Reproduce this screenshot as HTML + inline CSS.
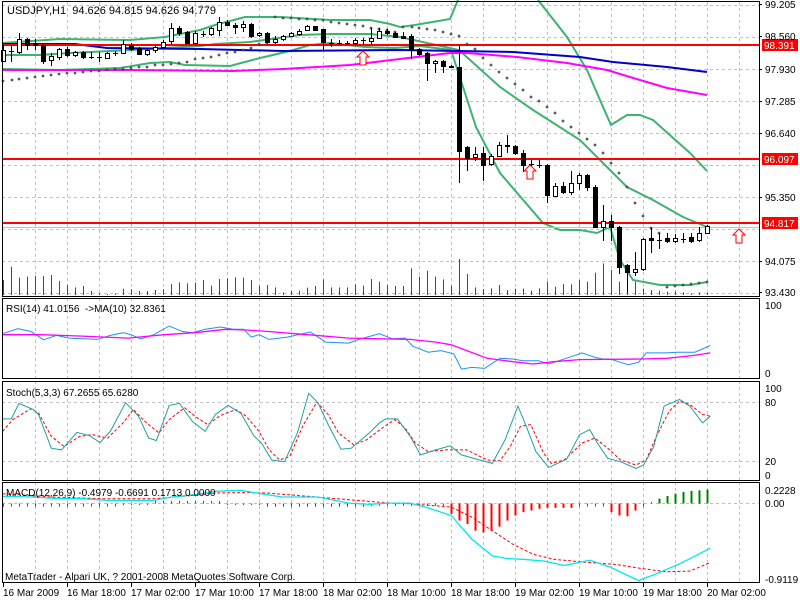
<!DOCTYPE html>
<html><head><meta charset="utf-8"><style>
html,body{margin:0;padding:0;background:#fff;width:800px;height:600px;overflow:hidden}
svg{display:block}
text{font-family:"Liberation Sans",sans-serif;font-size:10px;fill:#000}
</style></head><body>
<svg id="s" width="800" height="600" xmlns="http://www.w3.org/2000/svg"></svg>
<script>
var o='';
function P(pts,attr){o+='<polyline fill="none" points="'+pts.map(function(p){return p[0].toFixed(1)+','+p[1].toFixed(1)}).join(' ')+'" '+attr+'/>';}
function L(x1,y1,x2,y2,a){o+='<line x1="'+x1+'" y1="'+y1+'" x2="'+x2+'" y2="'+y2+'" '+a+'/>';}
function R(x,y,w,h,a){o+='<rect x="'+x+'" y="'+y+'" width="'+w+'" height="'+h+'" '+a+'/>';}
function T(x,y,t,a){o+='<text x="'+x+'" y="'+y+'" '+(a||'')+'>'+t+'</text>';}
var RX=759;
var grid='stroke="#c0c0c0" stroke-width="1" stroke-dasharray="3,3"';
var panels=[[2,296],[298,378],[381,480],[482,582]];
for(var x=35;x<RX;x+=32){panels.forEach(function(p){L(x+.5,p[0],x+.5,p[1],grid)});}
[5,37,69,101,133,165,197,229,261,293].forEach(function(y){L(2,y+.5,RX,y+.5,grid)});
var vz=[840,800,833,830,828,828,825,843,855,862,858,873,880,882,880,866,868,873,873,870,868,852,847,850,848,840,857,837,835,832,833,840,857,855,862,877,873,872,863,858,838,862,862,862,853,857,837,845,855,858,858,805,830,812,830,838,857,777,822,862,867,865,855,870,866,866,872,865,845,860,852,853,840,845,818,790,810,845,800,845,866,870,872,875,875,877,880,877,878];
vz.forEach(function(z,i){var x=3+8*i;L(x+.5,z/3,x+.5,295,'stroke="#008000" stroke-width="1"')});
var g='stroke="#3cb371" stroke-width="2"';
P([[3,43],[60,39],[130,40],[165,37],[200,30],[215,25],[245,17],[280,17],[330,20],[370,20],[390,24],[400,27],[415,25],[450,19],[458,0]],g);
P([[538,0],[567,37],[587,70],[600,100],[611,125],[627,115],[640,115],[653,120],[690,153],[707,171]],g);
P([[3,55],[40,55],[70,53],[130,50],[165,48],[200,46],[215,44],[250,42],[300,35],[330,34],[370,34],[400,37],[459,50],[500,87],[533,110],[580,140],[600,160],[627,187],[653,200],[683,217],[707,227]],g);
P([[3,69],[60,70],[120,68],[150,63],[170,62],[185,65],[230,66],[260,58],[290,51],[310,45],[330,43],[365,47],[395,48],[420,46],[451,50],[476,127],[500,173],[543,223],[560,230],[580,230],[597,233],[610,227],[620,260],[633,280],[660,285],[690,285],[707,282]],g);
P([[3,44],[75,44],[107,48],[200,49],[283,51],[400,50],[513,52],[580,57],[613,62],[667,67],[707,72]],'stroke="#0000c8" stroke-width="2"');
P([[3,70],[123,70],[233,71],[283,69],[317,67],[350,65],[367,63],[400,59],[450,53],[467,53],[517,57],[567,63],[607,70],[640,80],[667,88],[707,95]],'stroke="#ff00ff" stroke-width="2"');
[[45,'98.391'],[159,'96.097'],[223,'94.817']].forEach(function(l){L(2,l[0],RX,l[0],'stroke="#ff0000" stroke-width="2"');R(762,l[0]-6,36,12,'fill="#ff0000"');T(764,l[0]+4,l[1],'style="fill:#fff"');});
L(2,227.5,RX,227.5,'stroke="#c0c0c0" stroke-width="1"');
var sar=[[3,81],[12,80],[19,79],[27,78],[35,77],[43,76],[51,75],[59,74],[67,73],[75,73],[83,72],[91,71],[99,71],[107,70],[115,69],[123,69],[131,68],[139,67],[147,67],[155,65],[163,65],[171,64],[179,63],[187,62],[195,59],[203,58],[211,57],[219,55],[227,53],[235,52],[243,50],[251,48],[259,44],[267,43],[275,17],[283,18],[291,18],[299,19],[307,19],[315,20],[323,20],[331,22],[339,23],[347,24],[355,25],[363,26],[371,28],[379,29],[387,30],[395,32],[403,27],[412,27],[419,28],[427,29],[435,30],[443,32],[451,34],[459,36],[467,44],[475,49],[483,58],[491,65],[499,72],[507,78],[515,84],[523,90],[531,97],[539,101],[547,107],[555,113],[563,121],[571,127],[579,133],[587,139],[595,145],[603,153],[611,163],[619,173],[627,187],[635,203],[643,216],[651,228],[659,233],[667,287],[675,286],[683,285],[691,284],[699,283],[707,282]];
sar.forEach(function(p){o+='<path d="M'+p[0]+' '+(p[1]-1.2)+'l1.2 1.2l-1.2 1.2l-1.2 -1.2z" fill="#fff" stroke="#000" stroke-width="0.6"/>';});
var C=[[50,61,45,62,'w'],[51,51,46,62,'d'],[39,52,33,54,'w'],[39,45,38,50,'b'],[43,45,39,50,'b'],[45,61,44,64,'b'],[56,60,53,66,'w'],[49,57,48,60,'w'],[49,55,47,57,'b'],[52,55,51,57,'w'],[52,57,51,59,'b'],[57,57,52,59,'d'],[57,57,52,62,'d'],[53,58,52,58,'w'],[53,53,51,56,'d'],[44,53,40,54,'w'],[45,49,43,51,'b'],[48,54,47,55,'b'],[50,54,49,56,'w'],[47,50,46,53,'w'],[42,47,40,49,'w'],[28,41,23,44,'w'],[28,33,26,36,'b'],[32,43,31,44,'b'],[33,43,31,44,'w'],[34,34,31,37,'d'],[28,34,27,36,'w'],[22,30,17,36,'w'],[22,25,20,26,'b'],[25,27,23,34,'b'],[24,27,21,32,'w'],[24,36,23,38,'b'],[33,35,32,37,'w'],[33,42,32,43,'b'],[39,42,36,44,'w'],[36,39,35,41,'w'],[33,36,32,37,'w'],[31,34,29,36,'w'],[26,30,25,31,'w'],[26,30,26,31,'b'],[29,42,29,50,'b'],[43,43,39,47,'d'],[43,43,40,45,'d'],[43,43,41,45,'d'],[40,43,38,45,'w'],[40,40,38,44,'d'],[38,41,28,44,'w'],[31,38,28,39,'w'],[31,33,29,35,'b'],[33,37,32,38,'b'],
[36,38,32,38,'b'],[36,50,34,59,'b'],[49,54,48,56,'b'],[53,63,52,81,'b'],[61,63,60,73,'w'],[61,66,60,73,'b'],[66,67,65,68,'b'],[67,151,44,183,'b'],[147,158,146,171,'b'],[154,157,147,161,'w'],[153,165,147,181,'b'],[156,164,154,166,'w'],[145,156,142,157,'w'],[145,146,135,153,'b'],[146,153,145,155,'b'],[153,165,150,172,'b'],[164,164,160,169,'d'],[165,165,160,168,'d'],[165,195,164,203,'b'],[186,196,183,197,'w'],[186,192,182,194,'b'],[183,192,171,195,'w'],[175,183,173,190,'w'],[175,187,174,191,'b'],[187,227,185,228,'b'],[221,227,205,241,'w'],[221,227,215,241,'b'],[227,267,226,274,'b'],[265,272,264,292,'b'],[269,272,252,276,'w'],[239,269,238,271,'w'],[238,240,228,253,'b'],[240,240,233,249,'d'],[238,241,233,243,'b'],[238,241,234,243,'w'],[239,239,233,243,'d'],[237,241,233,243,'b'],[233,240,227,242,'w'],[226,233,225,234,'w']];
C.forEach(function(c,i){var x=3+8*i;L(x+.5,c[2],x+.5,c[3],'stroke="#000" stroke-width="1"');
 if(c[4]=='d'){L(x-2,c[0]+.5,x+3,c[0]+.5,'stroke="#000" stroke-width="1"');}
 else R(x-1.5,c[0]+.5,4,Math.max(1,c[1]-c[0]),'fill="'+(c[4]=='w'?'#fff':'#000')+'" stroke="#000" stroke-width="1"');});
function arrow(x,y){o+='<path d="M'+x+' '+y+'l6 6h-3v8h-6v-8h-3z" fill="#fff" stroke="#ff0000" stroke-width="1"/>';}
arrow(363,51);arrow(530,165);arrow(739,229);
[[4,'99.205'],[36,'98.560'],[69,'97.930'],[101,'97.285'],[133,'96.640'],[197,'95.350'],[261,'94.075'],[292,'93.430']].forEach(function(l){T(765,l[0]+4,l[1]);L(RX,l[0]+.5,RX+3,l[0]+.5,'stroke="#000"');});
T(7,14,'USDJPY,H1  94.626 94.815 94.626 94.779','style="font-size:11px" xml:space="preserve"');
function Z(a){return a.map(function(p){return [p[0]/1.95,295+p[1]/2.97]});}
P(Z([[5,115],[35,100],[60,108],[85,133],[110,120],[135,128],[160,130],[190,132],[215,120],[240,112],[255,118],[275,130],[300,118],[330,92],[355,108],[375,112],[400,102],[430,95],[455,102],[475,102],[490,125],[505,118],[525,132],[560,125],[605,110],[635,140],[680,143],[700,132],[740,115],[765,130],[790,128],[805,152],[835,170],[860,165],[885,175],[900,220],[920,215],[945,218],[975,188],[1000,190],[1020,195],[1050,195],[1070,205],[1090,195],[1110,185],[1135,172],[1160,185],[1175,190],[1190,190],[1210,200],[1225,207],[1245,200],[1260,172],[1300,172],[1320,170],[1355,170],[1385,150]]),'stroke="#1e90ff" stroke-width="1"');
P(Z([[5,118],[80,118],[160,122],[250,128],[320,118],[380,112],[440,102],[480,104],[520,108],[600,118],[680,128],[740,130],[800,132],[850,140],[880,148],[910,165],[950,188],[1000,198],[1040,205],[1080,198],[1130,192],[1250,190],[1300,188],[1350,180],[1385,172]]),'stroke="#ff00ff" stroke-width="1.3"');
L(2,402.5,RX,402.5,grid);L(2,461.5,RX,461.5,grid);L(2,503.5,RX,503.5,grid);
P(Z([[5,405],[25,370],[60,338],[75,350],[100,420],[125,450],[155,420],[180,415],[210,425],[240,380],[260,340],[280,372],[310,410],[330,370],[360,335],[380,360],[405,385],[430,358],[460,340],[480,360],[505,405],[525,460],[545,490],[565,480],[590,390],[618,318],[640,355],[660,410],[690,445],[715,430],[745,395],[770,370],[790,395],[810,440],[835,465],[870,460],[910,460],[950,490],[975,492],[995,450],[1015,390],[1035,385],[1060,470],[1075,500],[1100,490],[1135,440],[1160,425],[1185,455],[1210,490],[1240,505],[1260,490],[1280,420],[1305,345],[1325,315],[1345,325],[1370,355],[1385,360]]),'stroke="#ff0000" stroke-width="1" stroke-dasharray="3,2"');
P(Z([[5,368],[22,368],[37,322],[65,340],[75,355],[100,455],[120,460],[150,408],[175,418],[195,438],[215,405],[245,320],[270,360],[290,425],[305,432],[330,328],[350,322],[375,375],[400,405],[420,355],[445,328],[470,352],[495,418],[510,440],[530,490],[555,495],[580,410],[602,292],[620,320],[640,385],[665,458],[685,455],[720,410],[740,380],[752,368],[775,368],[800,420],[820,475],[850,460],[878,448],[900,475],[935,490],[960,500],[985,430],[1010,330],[1025,385],[1045,465],[1070,512],[1105,488],[1130,415],[1150,400],[1165,440],[1185,485],[1210,495],[1240,515],[1255,505],[1275,450],[1295,330],[1325,310],[1345,330],[1370,380],[1385,360]]),'stroke="#20a0a0" stroke-width="1"');
var hz={56:650,57:670,58:680,59:700,60:705,61:700,62:688,63:670,64:655,65:645,66:640,67:635,68:632,69:632,70:632,71:632,72:628,73:628,74:628,75:628,76:645,77:655,78:657,79:640,80:628,81:615,82:605,83:597,84:590,85:585,86:582,87:580,88:578};
for(var i=0;i<89;i++){var x=3+8*i,v;
 if(hz[i]!==undefined)v=hz[i];else if(i<15)v=628;else if(i>=19&&i<28)v=612;else if(i>=33&&i<46)v=629;else if(i>=46&&i<56)v=626;else v=624;
 var y=295+v/2.97;L(x+.5,503.5,x+.5,y,'stroke="'+(y<503.5?'#008000':'#ff0000')+'" stroke-width="'+(Math.abs(y-503.5)>4?2:1)+'"');}
P(Z([[5,590],[100,600],[200,605],[300,605],[380,595],[420,588],[480,587],[520,588],[600,598],[680,608],[750,617],[800,620],[840,625],[880,630],[920,660],[960,700],[1000,740],[1040,770],[1080,785],[1130,792],[1200,800],[1250,812],[1300,822],[1345,820],[1385,795]]),'stroke="#ff0000" stroke-width="1" stroke-dasharray="3,2"');
P(Z([[5,598],[60,600],[120,605],[160,605],[210,610],[240,610],[300,610],[335,600],[380,593],[420,583],[470,580],[500,588],[550,600],[620,600],[680,618],[720,622],[760,618],[800,618],[830,630],[880,655],[900,690],[920,725],[960,775],[990,783],[1020,785],[1060,790],[1100,803],[1150,788],[1190,808],[1220,830],[1245,848],[1280,828],[1330,795],[1385,752]]),'stroke="#00e8f0" stroke-width="1.3"');
R(2.5,1.5,RX-2,295,'fill="none" stroke="#000"');
panels.slice(1).forEach(function(p){R(2.5,p[0]+.5,RX-2,p[1]-p[0],'fill="none" stroke="#000"');});
T(6,312,'RSI(14) 41.0156  -&gt;MA(10) 32.8361','xml:space="preserve"');
T(6,396,'Stoch(5,3,3) 67.2655 65.6280');
T(6,496,'MACD(12,26,9) -0.4979 -0.6691 0.1713 0.0000');
T(5,580,'MetaTrader - Alpari UK, ? 2001-2008 MetaQuotes Software Corp.');
[[305,'100'],[373,'0'],[388,'100'],[402,'80'],[461,'20'],[475,'0'],[490,'0.2228'],[503,'0.00'],[579,'-0.9119']].forEach(function(l){T(765,l[0]+4,l[1]);});
var tl=['16 Mar 2009','16 Mar 18:00','17 Mar 02:00','17 Mar 10:00','17 Mar 18:00','18 Mar 02:00','18 Mar 10:00','18 Mar 18:00','19 Mar 02:00','19 Mar 10:00','19 Mar 18:00','20 Mar 02:00'];
tl.forEach(function(t,k){var x=3+64*k;T(x,596,t);L(x+.5,583,x+.5,587,'stroke="#000"');});
document.getElementById('s').innerHTML=o;
</script>
</body></html>
